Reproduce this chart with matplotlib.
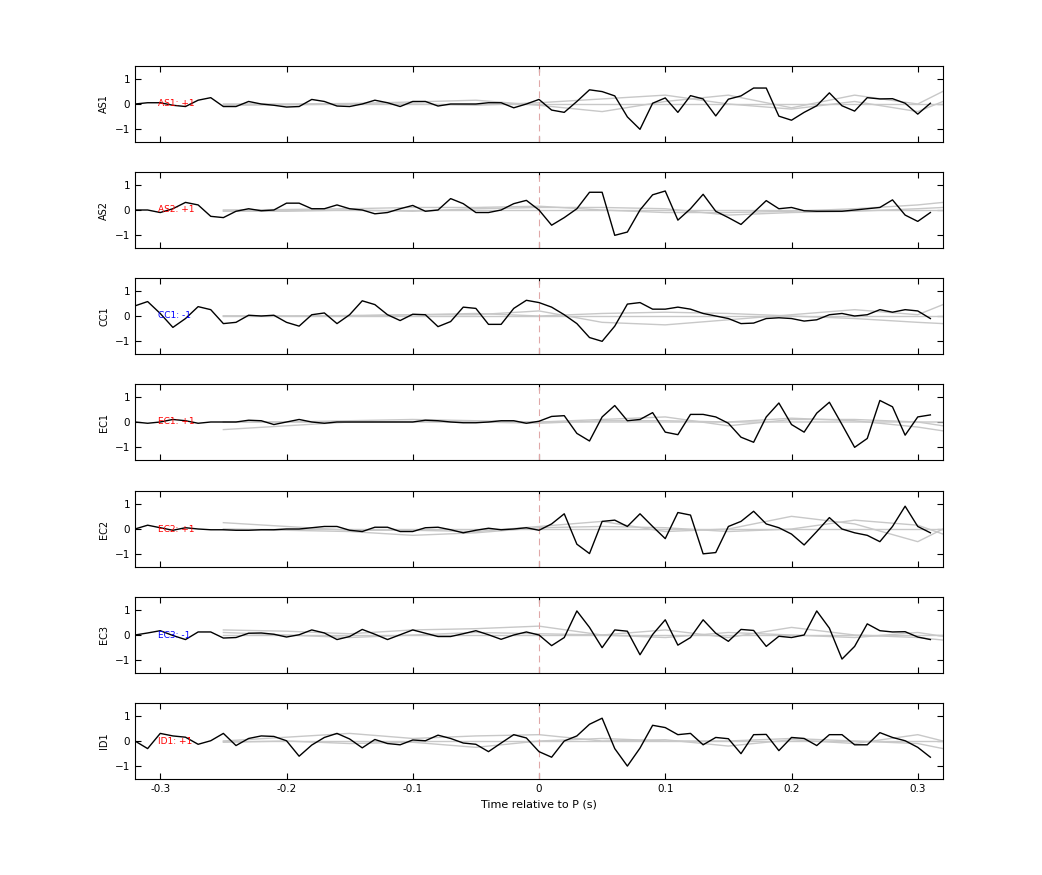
import numpy as np
import matplotlib
matplotlib.use("Agg")
import matplotlib.pyplot as plt

stations = ["AS1", "AS2", "CC1", "EC1", "EC2", "EC3", "ID1"]
labels = ["AS1: +1", "AS2: +1", "CC1: -1", "EC1: +1", "EC2: +1", "EC3: -1", "ID1: +1"]
label_colors = ["red", "red", "blue", "red", "red", "blue", "red"]

t_obs = np.round(np.arange(-32, 32) * 0.01, 2)  # -0.32 .. 0.31

AS1 = [0, 0.05, 0.05, -0.05, -0.1, 0.15, 0.25, -0.1, -0.1, 0.1, 0.0, -0.05, -0.12, -0.1, 0.18, 0.1,
       -0.08, -0.1, 0.0, 0.15, 0.05, -0.1, 0.1, 0.1, -0.08, 0.0, 0.0, 0.0, 0.05, 0.05, -0.15, 0.0,
       0.18, -0.24, -0.33, 0.1, 0.56, 0.49, 0.32, -0.51, -1.0, 0.03, 0.24, -0.33, 0.33, 0.2, -0.47, 0.19,
       0.32, 0.63, 0.63, -0.48, -0.64, -0.33, -0.07, 0.44, -0.07, -0.28, 0.25, 0.2, 0.21, 0.03, -0.4, 0.03]
AS2 = [0, 0.0, -0.1, 0.05, 0.3, 0.2, -0.25, -0.3, -0.05, 0.05, -0.03, 0.0, 0.27, 0.27, 0.05, 0.05,
       0.2, 0.05, 0.0, -0.15, -0.1, 0.05, 0.18, -0.05, 0.0, 0.45, 0.25, -0.1, -0.1, 0.0, 0.25, 0.38,
       0.0, -0.6, -0.3, 0.05, 0.7, 0.7, -1.0, -0.87, 0.0, 0.6, 0.75, -0.4, 0.05, 0.62, -0.05, -0.3,
       -0.57, -0.1, 0.37, 0.05, 0.1, -0.03, -0.05, -0.05, -0.05, 0.0, 0.05, 0.1, 0.4, -0.2, -0.45, -0.1]
CC1 = [0.4, 0.57, 0.1, -0.45, -0.1, 0.37, 0.25, -0.3, -0.25, 0.03, 0.0, 0.03, -0.25, -0.4, 0.05, 0.12,
       -0.3, 0.05, 0.6, 0.45, 0.05, -0.18, 0.07, 0.05, -0.42, -0.22, 0.35, 0.3, -0.33, -0.33, 0.3, 0.62,
       0.53, 0.35, 0.05, -0.3, -0.85, -1.0, -0.4, 0.47, 0.53, 0.27, 0.27, 0.35, 0.27, 0.1, 0.0, -0.1,
       -0.3, -0.28, -0.1, -0.07, -0.1, -0.2, -0.15, 0.05, 0.1, 0.0, 0.05, 0.25, 0.15, 0.25, 0.2, -0.1]
EC1 = [0, -0.05, 0.0, 0.1, 0.05, -0.05, 0.0, 0.0, 0.0, 0.07, 0.05, -0.1, 0.0, 0.1, 0.0, -0.05,
       0.0, 0.0, 0.0, 0.0, 0.0, 0.0, 0.0, 0.07, 0.05, 0.0, -0.03, -0.03, 0.0, 0.05, 0.05, -0.05,
       0.03, 0.22, 0.25, -0.45, -0.75, 0.2, 0.65, 0.05, 0.1, 0.37, -0.4, -0.5, 0.3, 0.3, 0.2, -0.05,
       -0.6, -0.8, 0.2, 0.75, -0.1, -0.4, 0.35, 0.78, -0.1, -1.0, -0.65, 0.85, 0.6, -0.52, 0.2, 0.28]
EC2 = [0, 0.15, 0.05, -0.05, 0.05, 0.0, -0.03, -0.03, -0.05, -0.05, -0.03, -0.03, 0.0, 0.0, 0.05, 0.1,
       0.1, -0.05, -0.1, 0.07, 0.07, -0.1, -0.1, 0.05, 0.07, -0.03, -0.15, -0.05, 0.03, -0.03, 0.0, 0.05,
       -0.05, 0.2, 0.6, -0.6, -0.97, 0.3, 0.35, 0.1, 0.6, 0.1, -0.38, 0.65, 0.55, -0.98, -0.93, 0.1,
       0.3, 0.7, 0.2, 0.05, -0.2, -0.63, -0.1, 0.45, 0.0, -0.15, -0.25, -0.5, 0.1, 0.9, 0.1, -0.15]
EC3 = [0, 0.08, 0.17, -0.02, -0.18, 0.12, 0.12, -0.12, -0.1, 0.07, 0.08, 0.03, -0.08, 0.01, 0.2, 0.08,
       -0.18, -0.06, 0.22, 0.03, -0.18, 0.01, 0.2, 0.07, -0.06, -0.06, 0.05, 0.17, 0.01, -0.17, 0.0, 0.12,
       0.0, -0.42, -0.1, 0.95, 0.3, -0.5, 0.2, 0.15, -0.78, 0.02, 0.6, -0.4, -0.1, 0.6, 0.07, -0.25,
       0.22, 0.18, -0.45, -0.05, -0.1, 0.0, 0.95, 0.27, -0.95, -0.45, 0.44, 0.17, 0.12, 0.13, -0.08, -0.18]
ID1 = [0, -0.3, 0.3, 0.2, 0.15, -0.13, 0.01, 0.3, -0.18, 0.1, 0.2, 0.18, 0.01, -0.6, -0.16, 0.14,
       0.3, 0.08, -0.27, 0.06, -0.1, -0.15, 0.04, 0.01, 0.23, 0.1, -0.08, -0.13, -0.42, -0.08, 0.25, 0.12,
       -0.42, -0.64, 0.0, 0.2, 0.66, 0.9, -0.3, -0.99, -0.28, 0.62, 0.53, 0.25, 0.3, -0.15, 0.14, 0.09,
       -0.5, 0.25, 0.26, -0.38, 0.14, 0.1, -0.18, 0.25, 0.25, -0.15, -0.15, 0.33, 0.14, 0.01, -0.25, -0.64]
observed = [AS1, AS2, CC1, EC1, EC2, EC3, ID1]

# synthetic (gray) traces, sampled every 0.05 s
t_syn = [-0.25, -0.20, -0.15, -0.10, -0.05, 0.0, 0.05, 0.10, 0.15, 0.20, 0.25, 0.30, 0.32]
SYN_AS1 = [[0.0, 0.0, 0.0, 0.0, 0.0, 0.0, 0.0, 0.0, 0.0, 0.0, 0.0, 0.0, 0.0],
           [0.0, 0.0, 0.02, 0.08, 0.15, -0.05, -0.3, 0.1, 0.35, -0.15, 0.35, 0.0, 0.5],
           [-0.05, -0.03, 0.0, 0.0, -0.05, 0.05, 0.2, 0.35, 0.0, -0.2, 0.1, -0.3, 0.1]]
SYN_AS2 = [[0.0, 0.0, 0.0, 0.0, 0.0, 0.0, 0.0, 0.0, 0.0, 0.0, 0.0, 0.0, 0.0],
           [0.0, 0.02, 0.05, 0.1, 0.1, 0.15, 0.0, -0.1, -0.1, -0.05, 0.05, 0.2, 0.3],
           [-0.05, -0.05, 0.0, -0.05, 0.05, 0.1, 0.1, 0.05, -0.2, -0.1, -0.05, 0.05, 0.1]]
SYN_CC1 = [[0.0, 0.0, 0.0, 0.0, 0.0, 0.0, 0.0, 0.0, 0.0, 0.0, 0.0, 0.0, 0.0],
           [0.0, 0.0, 0.0, 0.05, 0.05, 0.2, -0.25, -0.35, -0.15, 0.05, 0.25, 0.05, 0.45],
           [0.0, 0.0, 0.02, 0.05, 0.1, 0.0, 0.1, 0.15, 0.1, 0.0, -0.1, -0.25, -0.3]]
SYN_EC1 = [[-0.3, -0.15, 0.0, 0.0, 0.0, 0.0, 0.0, 0.0, 0.0, 0.0, 0.0, 0.0, 0.0],
           [0.0, 0.0, 0.05, 0.1, 0.05, 0.0, 0.1, 0.2, -0.15, 0.1, 0.1, 0.0, -0.15],
           [0.0, 0.0, 0.0, 0.02, 0.0, -0.05, 0.05, 0.05, 0.0, 0.15, 0.05, -0.2, -0.35]]
SYN_EC2 = [[0.25, 0.1, -0.05, -0.05, -0.1, 0.1, 0.3, -0.1, 0.0, 0.5, 0.2, -0.5, 0.0],
           [0.0, -0.05, -0.1, -0.25, -0.15, 0.05, 0.1, 0.05, -0.1, 0.0, 0.35, 0.15, -0.2],
           [0.0, 0.0, 0.0, 0.0, 0.0, 0.0, 0.0, 0.0, 0.0, 0.0, 0.0, 0.0, 0.0]]
SYN_EC3 = [[0.2, 0.15, 0.05, 0.2, 0.25, 0.35, 0.0, 0.2, -0.1, 0.3, 0.0, -0.1, -0.2],
           [0.1, 0.0, -0.1, 0.0, 0.1, 0.05, 0.0, -0.1, 0.1, 0.0, -0.1, 0.1, -0.05],
           [0.0, 0.0, 0.0, 0.0, 0.0, 0.0, 0.0, 0.0, 0.0, 0.0, 0.0, 0.0, 0.0]]
SYN_ID1 = [[0.0, 0.15, 0.3, 0.1, 0.2, 0.25, 0.0, 0.05, -0.2, 0.05, -0.1, 0.25, 0.0],
           [-0.05, 0.0, -0.1, -0.05, -0.25, 0.0, 0.1, 0.0, 0.0, 0.1, 0.0, -0.1, -0.3],
           [0.0, 0.0, 0.0, 0.0, 0.0, 0.0, 0.0, 0.0, 0.0, 0.0, 0.0, 0.0, 0.0]]
synthetics = [SYN_AS1, SYN_AS2, SYN_CC1, SYN_EC1, SYN_EC2, SYN_EC3, SYN_ID1]

fig = plt.figure(figsize=(10.42, 8.75), dpi=100)
W, H = 1042, 875
left, right = 135, 943
tops = [66, 172, 278, 384, 491, 597, 703]
ph = 76
for i, st in enumerate(stations):
    ax = fig.add_axes([left / W, 1 - (tops[i] + ph) / H, (right - left) / W, ph / H])
    for s in synthetics[i]:
        ax.plot(t_syn, s, color="#c8c8c8", lw=1.0)
    ax.axvline(0, color="#e0a8a8", lw=0.8, ls=(0, (6, 4)))
    ax.plot(t_obs, observed[i], color="black", lw=1.0)
    ax.text(-0.302, 0, labels[i], color=label_colors[i], fontsize=6.5, va="center", ha="left")
    ax.set_xlim(-0.32, 0.32)
    ax.set_ylim(-1.5, 1.5)
    ax.set_yticks([-1, 0, 1])
    ax.set_xticks([-0.3, -0.2, -0.1, 0, 0.1, 0.2, 0.3])
    ax.tick_params(direction="in", top=True, right=True, labelsize=7.5, length=4)
    ax.set_ylabel(st, fontsize=7)
    if i < len(stations) - 1:
        ax.set_xticklabels([])
    else:
        ax.set_xticklabels(["-0.3", "-0.2", "-0.1", "0", "0.1", "0.2", "0.3"])
        ax.set_xlabel("Time relative to P (s)", fontsize=8)

fig.savefig("out.png", dpi=100)
